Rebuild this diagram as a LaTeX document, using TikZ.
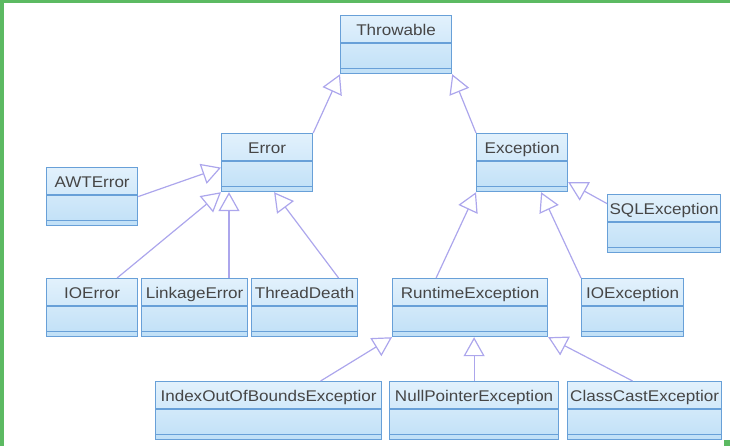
\documentclass[tikz,border=0pt]{standalone}
\usepackage{fontspec}
\newfontfamily\umlfont{Liberation Sans}[FakeStretch=1.1]
\usetikzlibrary{arrows.meta}
\definecolor{uborder}{RGB}{104,160,216}
\definecolor{utop}{RGB}{226,241,252}
\definecolor{ubottom}{RGB}{192,224,247}
\definecolor{ulink}{RGB}{172,166,236}
\definecolor{ugreen}{RGB}{92,186,98}
\definecolor{utext}{RGB}{70,70,70}
\tikzset{classbox/.style = {draw=uborder, line width=1.2pt, top color=utop, bottom color=ubottom,
    inner sep=0pt, anchor=north west, minimum height=58pt, text height=19.5pt, text depth=38.5pt,
    font=\umlfont\fontsize{15.5}{18}\selectfont, text=utext}}
\tikzset{inherit/.style = {draw=ulink, line width=1.2pt, -{Triangle[open, length=19pt, width=21pt]}}}
\newcommand{\umlclass}[5]{%
  \node[classbox, minimum width=#4pt] (#1) at (#2,#3) {#5};
  \draw[uborder, line width=1.2pt] ([yshift=-28pt]#1.north west) -- ([yshift=-28pt]#1.north east)
    ([yshift=6pt]#1.south west) -- ([yshift=6pt]#1.south east);
}

\begin{document}
\begin{tikzpicture}[x=1pt, y=-1pt]
    \useasboundingbox (0,0) rectangle (730,446);
    \fill[ugreen] (0,0) rectangle (730,3);
    \fill[ugreen] (0,0) rectangle (4,446);
    \fill[ugreen] (724,440) rectangle (730,446);

    \umlclass{throwable}{340}{15}{111}{Throwable}
    \umlclass{error}{221}{133}{91}{Error}
    \umlclass{exception}{476}{133}{91}{Exception}
    \umlclass{awterror}{46}{167}{91}{AWTError}
    \umlclass{sqlexception}{607}{194}{113}{SQLException}

    \umlclass{ioerror}{46}{278}{91}{IOError}
    \umlclass{linkageerror}{141}{278}{106}{LinkageError}
    \umlclass{threaddeath}{251}{278}{106}{ThreadDeath}
    \umlclass{runtimeexception}{392}{278}{155}{RuntimeException}
    \umlclass{ioexception}{581}{278}{102}{IOException}

    \umlclass{indexoutofbounds}{155}{381}{226}{IndexOutOfBoundsExceptior}
    \umlclass{nullpointer}{389}{381}{169}{NullPointerException}
    \umlclass{classcast}{567}{381}{154}{ClassCastExceptior}

    \draw[inherit] (error.north east) -- (throwable.south west);
    \draw[inherit] (exception.north west) -- (throwable.south east);

    \draw[inherit] (awterror.east) -- ([yshift=-5pt]error.west);
    \draw[inherit] ([xshift=25pt]ioerror.north) -- (error.south west);
    \coordinate (linktip) at ([xshift=8pt]error.south west);
    \draw[inherit] (linktip |- linkageerror.north) -- (linktip);
    \draw[inherit] ([xshift=34pt]threaddeath.north) -- ([xshift=7pt]error.south);

    \draw[inherit] ([xshift=-34pt]runtimeexception.north) -- (exception.south west);
    \draw[inherit] (ioexception.north west) -- ([xshift=19pt]exception.south);
    \draw[inherit] ([yshift=20pt]sqlexception.west) -- ([yshift=10pt]exception.south east);

    \draw[inherit] ([xshift=52pt]indexoutofbounds.north) -- (runtimeexception.south west);
    \draw[inherit] (nullpointer.north) -- (nullpointer.north |- runtimeexception.south);
    \draw[inherit] ([xshift=-12pt]classcast.north) -- (runtimeexception.south east);
\end{tikzpicture}
\end{document}
